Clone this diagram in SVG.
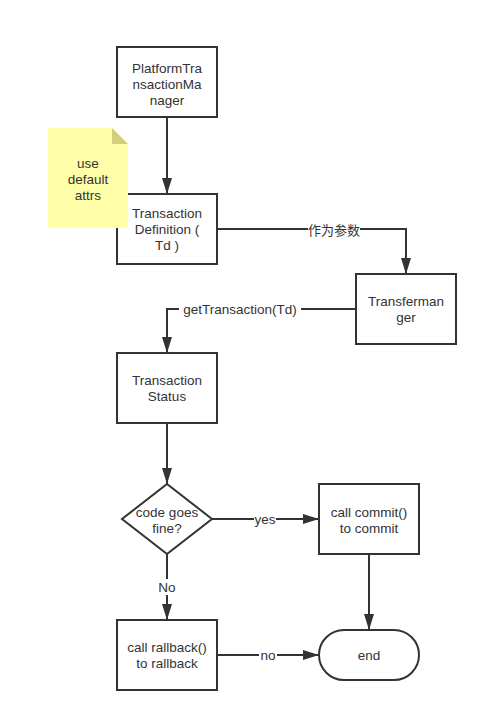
<svg xmlns="http://www.w3.org/2000/svg" width="488" height="722" viewBox="0 0 488 722">
<defs>
<style>
.box{fill:#fff;stroke:#333;stroke-width:2}
.t{font-family:"Liberation Sans",Arial,sans-serif;font-size:13.5px;fill:#333;text-anchor:middle;dominant-baseline:central}
.line{fill:none;stroke:#333;stroke-width:2}
.lbl{fill:#fff}
</style>
<marker id="arr" viewBox="0 0 16 10" refX="16" refY="5" markerWidth="8" markerHeight="5" markerUnits="strokeWidth" orient="auto">
<path d="M0,0 L16,5 L0,10 z" fill="#333"/>
</marker>
</defs>
<rect width="488" height="722" fill="#fff"/>
<g id="connectors">
<path class="line" d="M167,117 V194" marker-end="url(#arr)"/>
<path class="line" d="M217,229 H406 V274" marker-end="url(#arr)"/>
<path class="line" d="M356,309 H167 V353" marker-end="url(#arr)"/>
<path class="line" d="M167,423 V484" marker-end="url(#arr)"/>
<path class="line" d="M212,519 H319" marker-end="url(#arr)"/>
<path class="line" d="M167,554 V620" marker-end="url(#arr)"/>
<path class="line" d="M369,554 V630" marker-end="url(#arr)"/>
<path class="line" d="M217,655 H319" marker-end="url(#arr)"/>
<rect class="lbl" x="308" y="221" width="52" height="16"/>
<text class="t" x="334" y="229" style="font-family:'Noto Sans CJK SC',sans-serif;font-size:13px">作为参数</text>
<rect class="lbl" x="179" y="301" width="122" height="16"/>
<text class="t" x="240" y="309">getTransaction(Td)</text>
<rect class="lbl" x="254" y="511" width="22" height="16"/>
<text class="t" x="265" y="519">yes</text>
<rect class="lbl" x="156" y="579" width="22" height="16"/>
<text class="t" x="167" y="587">No</text>
<rect class="lbl" x="259" y="647" width="18" height="16"/>
<text class="t" x="268" y="655">no</text>
</g>
<g id="platformTransactionManager">
<rect class="box" x="117" y="47" width="100" height="70"/>
<text class="t" x="167" y="68">PlatformTra</text>
<text class="t" x="167" y="84">nsactionMa</text>
<text class="t" x="167" y="100">nager</text>
</g>
<g id="transactionDefinition">
<rect class="box" x="117" y="194" width="100" height="70"/>
<text class="t" x="167" y="213">Transaction</text>
<text class="t" x="167" y="229">Definition (</text>
<text class="t" x="167" y="245">Td )</text>
</g>
<g id="note">
<path d="M48,128 H112 L128,144 V228 H48 Z" fill="#ffffaa"/>
<path d="M112,128 L128,144 H112 Z" fill="#d3cf7c"/>
<text class="t" x="88" y="163">use</text>
<text class="t" x="88" y="179">default</text>
<text class="t" x="88" y="195">attrs</text>
</g>
<g id="transfermanager">
<rect class="box" x="356" y="274" width="100" height="70"/>
<text class="t" x="406" y="301">Transferman</text>
<text class="t" x="406" y="317">ger</text>
</g>
<g id="transactionStatus">
<rect class="box" x="117" y="353" width="100" height="70"/>
<text class="t" x="167" y="380">Transaction</text>
<text class="t" x="167" y="396">Status</text>
</g>
<g id="decision">
<path class="box" d="M167,484 L212,519 L167,554 L122,519 Z"/>
<text class="t" x="167" y="512">code goes</text>
<text class="t" x="167" y="528">fine?</text>
</g>
<g id="commit">
<rect class="box" x="319" y="484" width="100" height="70"/>
<text class="t" x="369" y="512">call commit()</text>
<text class="t" x="369" y="528">to commit</text>
</g>
<g id="rollback">
<rect class="box" x="117" y="620" width="100" height="70"/>
<text class="t" x="167" y="647">call rallback()</text>
<text class="t" x="167" y="663">to rallback</text>
</g>
<g id="end">
<rect class="box" x="319" y="630" width="100" height="50" rx="25" ry="25"/>
<text class="t" x="369" y="655">end</text>
</g>
</svg>
